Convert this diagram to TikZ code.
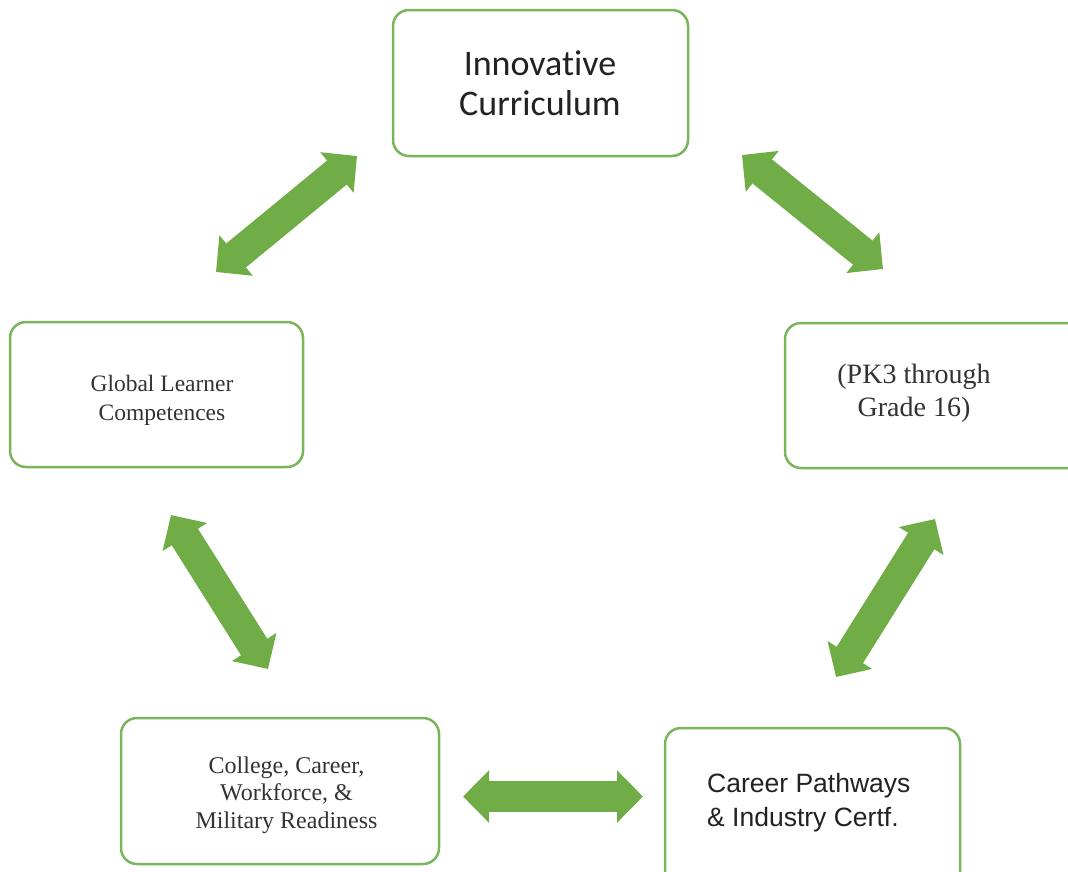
\documentclass[tikz,border=0pt]{standalone}
\usepackage{fontspec}
\setmainfont{Liberation Serif}
\newfontfamily\calibfont[Ligatures=NoCommon]{Carlito}
\newfontfamily\arialfont{Liberation Sans}
\usetikzlibrary{arrows.meta}
\definecolor{boxgreen}{HTML}{7AB55C}
\definecolor{arrowgreen}{HTML}{70AD47}
\definecolor{txtgray}{HTML}{222222}
\definecolor{serifgray}{HTML}{333333}
\begin{document}
\begin{tikzpicture}[x=1pt,y=-1pt,
  box/.style={draw=boxgreen, line width=2.5pt, rounded corners=16pt, fill=white, inner sep=0pt},
  lbl/.style={inner sep=0pt, align=center},
  link/.style={draw=arrowgreen, line width=31pt,
    {Triangle[width=51pt,length=26pt]}-{Triangle[width=51pt,length=26pt]}}]
\useasboundingbox (0,0) rectangle (1068,871);
\clip (0,0) rectangle (1068,871);
% boxes
\node[box, minimum width=295pt, minimum height=146pt] (top) at (540.5,83) {};
\node[box, minimum width=293pt, minimum height=145pt] (left) at (156.5,394.5) {};
\node[box, minimum width=300pt, minimum height=145pt] (right) at (935,395.5) {};
\node[box, minimum width=318pt, minimum height=146pt] (botleft) at (280,791) {};
\node[box, minimum width=295pt, minimum height=160pt] (botright) at (812.5,808) {};
% texts
\node[lbl, font=\calibfont\fontsize{36}{40}\selectfont, text=txtgray] (ttop) at (540,83.5) {Innovative\\Curriculum};
\node[lbl, font=\fontsize{23.5}{29}\selectfont, text=serifgray] (tleft) at (162,400) {Global Learner\\Competences};
\node[lbl, font=\fontsize{28}{33}\selectfont, text=serifgray] (tright) at (914,393) {(PK3 through\\Grade 16)};
\node[lbl, font=\fontsize{24}{27.5}\selectfont, text=serifgray] (tbotleft) at (286.5,795) {College, Career,\\Workforce, \&\\Military Readiness};
\node[lbl, align=left, anchor=west, font=\arialfont\fontsize{26.5}{34}\selectfont, text=txtgray] (tbotright) at (707,803) {Career Pathways\\\& Industry Certf.};
% arrow end points
\coordinate (a1s) at (216,272); \coordinate (a1e) at (357,156);
\coordinate (a2s) at (742,155); \coordinate (a2e) at (883,269);
\coordinate (a3s) at (171,515); \coordinate (a3e) at (268,669);
\coordinate (a4s) at (935,519); \coordinate (a4e) at (836,677);
\coordinate (a5s) at (463,796.5); \coordinate (a5e) at (643,796.5);
\draw[link] (a1s) -- (a1e);
\draw[link] (a2s) -- (a2e);
\draw[link] (a3s) -- (a3e);
\draw[link] (a4s) -- (a4e);
\draw[link] (a5s) -- (a5e);
\end{tikzpicture}
\end{document}
